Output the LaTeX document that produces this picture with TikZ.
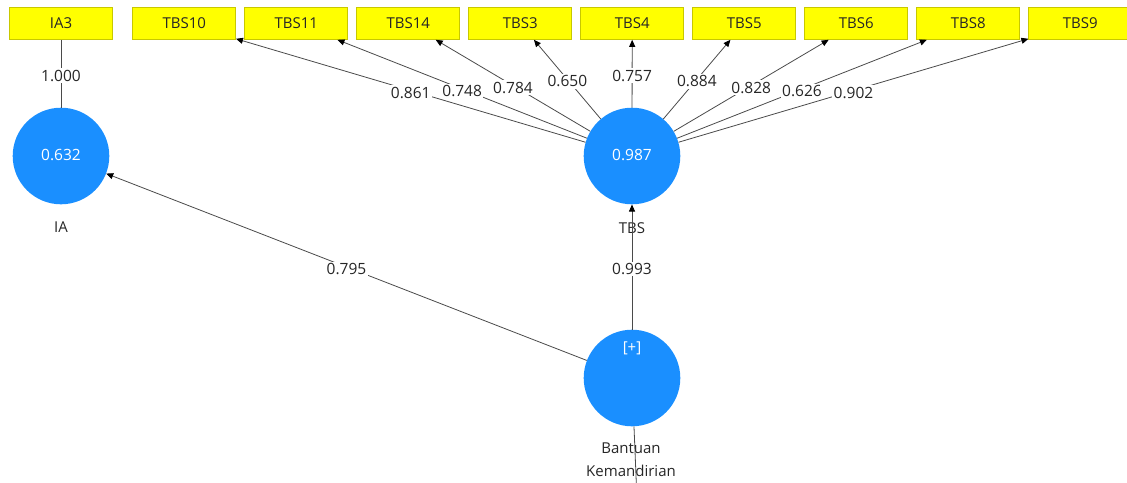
\documentclass[tikz,border=0pt]{standalone}
\usepackage{fontspec}
\setmainfont{Open Sans}
\usetikzlibrary{arrows.meta}
\definecolor{lvblue}{HTML}{1A8FFF}
\definecolor{indyellow}{HTML}{FFFF00}
\definecolor{indborder}{HTML}{C8C800}
\definecolor{linkgray}{HTML}{4A4A4A}
\definecolor{txt}{HTML}{262626}
\begin{document}
\begin{tikzpicture}[x=1pt,y=-1pt,
  latent/.style={circle, fill=lvblue, minimum size=96.6pt, inner sep=0pt,
    text=white, font=\fontsize{15.5}{18}\selectfont},
  indicator/.style={rectangle, fill=indyellow, draw=indborder, line width=0.6pt,
    minimum width=103pt, minimum height=32pt, inner sep=0pt, text=txt,
    font=\fontsize{15}{17}\selectfont},
  link/.style={draw=linkgray, line width=0.8pt},
  arrowlink/.style={link, -{Triangle[length=7pt,width=6pt,color=black]}},
  weight/.style={fill=white, inner sep=1.5pt, text=txt, yshift=-2pt,
    font=\fontsize{15.5}{17}\selectfont},
  caption/.style={text=txt, align=center, font=\fontsize{15}{23}\selectfont}
]
\useasboundingbox (0,0) rectangle (1127,482);

% latent variables
\node[latent] (ia)  at (61,156)  {\raisebox{2.5pt}{0.632}};
\node[latent] (tbs) at (632,156) {\raisebox{2.5pt}{0.987}};
\node[latent] (bk)  at (632,378) {};
\node[text=white, font=\fontsize{15}{17}\selectfont] (bkplus) at (632,348) {[+]};

% captions
\node[caption] (iacap)  at (61,227)  {IA};
\node[caption] (tbscap) at (632,228) {TBS};
\node[caption] (bkcap)  at (631,459.5) {Bantuan\\Kemandirian};

% indicators
\node[indicator] (ia3) at (61,23.5) {IA3};
\foreach \n [count=\i from 0] in {TBS10,TBS11,TBS14,TBS3,TBS4,TBS5,TBS6,TBS8,TBS9}
  \node[indicator] (\n) at (184.2+112*\i,23.5) {\n};

% connectors (labels placed afterwards so they sit on top of every line)
\draw[link] (ia3) -- coordinate[pos=0.5] (w-ia3) (ia);
\foreach \n in {TBS10,TBS11,TBS14,TBS3,TBS4,TBS5,TBS6,TBS8,TBS9}
  \draw[arrowlink] (tbs) -- coordinate[pos=0.5] (w-\n) (\n);
\draw[arrowlink] (bk) -- coordinate[pos=0.5] (w-ia) (ia);
\draw[arrowlink] (bk) -- coordinate[pos=0.5] (w-tbs) (tbs);
\coordinate (bkout) at (637,500);
\draw[link] (bk) -- (bkout);

% path coefficients and loadings
\node[weight] at (w-ia3) {1.000};
\foreach \n/\w in {TBS10/0.861,TBS11/0.748,TBS14/0.784,TBS3/0.650,TBS4/0.757,
                   TBS5/0.884,TBS6/0.828,TBS8/0.626,TBS9/0.902}
  \node[weight] at (w-\n) {\w};
\node[weight] at (w-ia)  {0.795};
\node[weight] at (w-tbs) {0.993};
\end{tikzpicture}
\end{document}
